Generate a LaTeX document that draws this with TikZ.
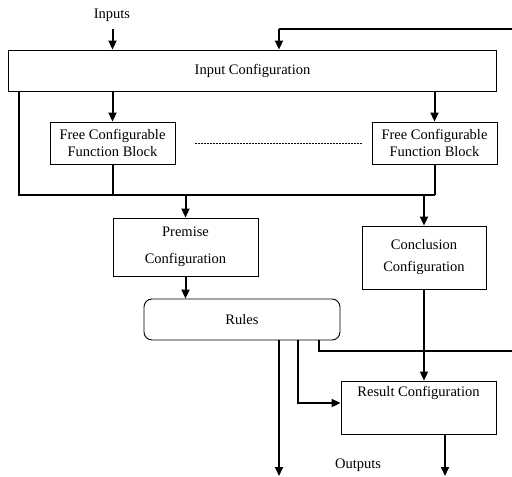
\documentclass[tikz,border=0pt]{standalone}
\usepackage{fontspec}
\setmainfont{Liberation Serif}
\usetikzlibrary{arrows.meta,calc}
\begin{document}
\begin{tikzpicture}[x=1pt,y=-1pt,
  every node/.style={font=\fontsize{14.5}{16.5}\selectfont},
  box/.style={draw,line width=0.9pt,rectangle,inner sep=0pt,align=center},
  rbox/.style={box,rounded corners=8pt},
  wire/.style={line width=2pt},
  arr/.style={wire,-{Triangle[length=9pt,width=8pt]}},
  txt/.style={inner sep=0pt}]
\useasboundingbox (0,0) rectangle (512,477);
% nodes
\node[box,minimum width=488pt,minimum height=41pt] (inp) at (252.5,70.5) {Input Configuration};
\node[box,minimum width=125pt,minimum height=42pt] (f1) at (112.5,143) {Free Configurable\\Function Block};
\node[box,minimum width=125pt,minimum height=42pt] (f2) at (434.5,143) {Free Configurable\\Function Block};
\node[box,minimum width=145pt,minimum height=58pt] (prem) at (185.5,247) {Premise\\[10.5pt]Configuration};
\node[box,minimum width=124pt,minimum height=63pt] (conc) at (424,257.5) {Conclusion\\[5.5pt]Configuration};
\node[rbox,minimum width=196pt,minimum height=41pt] (rules) at (242,319.5) {Rules};
\node[box,minimum width=155pt,minimum height=53pt,
  label={[txt,anchor=north,yshift=-5.5pt]north:Result Configuration}] (res) at (418.5,407.5) {};
\node[txt] (inlab) at (112,15) {Inputs};
\node[txt] (outlab) at (358,465) {Outputs};
% free ends
\coordinate (inTop) at (112.5,29);
\coordinate (fbR) at (512,29);
\coordinate (fbX) at (279,29);
\coordinate (busL) at (19,194.5);
\coordinate (busR) at (434.5,194.5);
\coordinate (dotL) at (195,143);
\coordinate (dotR) at (362,143);
\coordinate (out1) at (279,476);
\coordinate (out2) at (445,476);
\coordinate (r2) at (298,403);
\coordinate (fb2) at (512,351);
\coordinate (fb2x) at (319,351);
% connectors
\draw[arr] (inTop) -- (inTop |- inp.north);
\draw[wire] (fbR) -- (fbX);
\draw[arr] (fbX) -- (fbX |- inp.north);
\draw[arr] (f1.north |- inp.south) -- (f1.north);
\draw[arr] (f2.north |- inp.south) -- (f2.north);
\draw[line width=0.8pt,dash pattern=on 1.5pt off 1.5pt] (dotL) -- (dotR);
\draw[wire] (busL |- inp.south) -- (busL) -- (busR);
\draw[wire] (f1.south) -- (f1.south |- busL);
\draw[wire] (f2.south) -- (busR);
\draw[arr] (prem.north |- busL) -- (prem.north);
\draw[arr] (conc.north |- busL) -- (conc.north);
\draw[arr] (prem.south) -- (prem.south |- rules.north);
\draw[arr] (conc.south) -- (conc.south |- res.north);
\draw[arr] (rules.south -| out1) -- (out1);
\draw[arr] (rules.south -| r2) -- (r2) -- (res.west |- r2);
\draw[wire] (rules.south -| fb2x) -- (fb2x) -- (fb2);
\draw[arr] (res.south -| out2) -- (out2);
\end{tikzpicture}
\end{document}
